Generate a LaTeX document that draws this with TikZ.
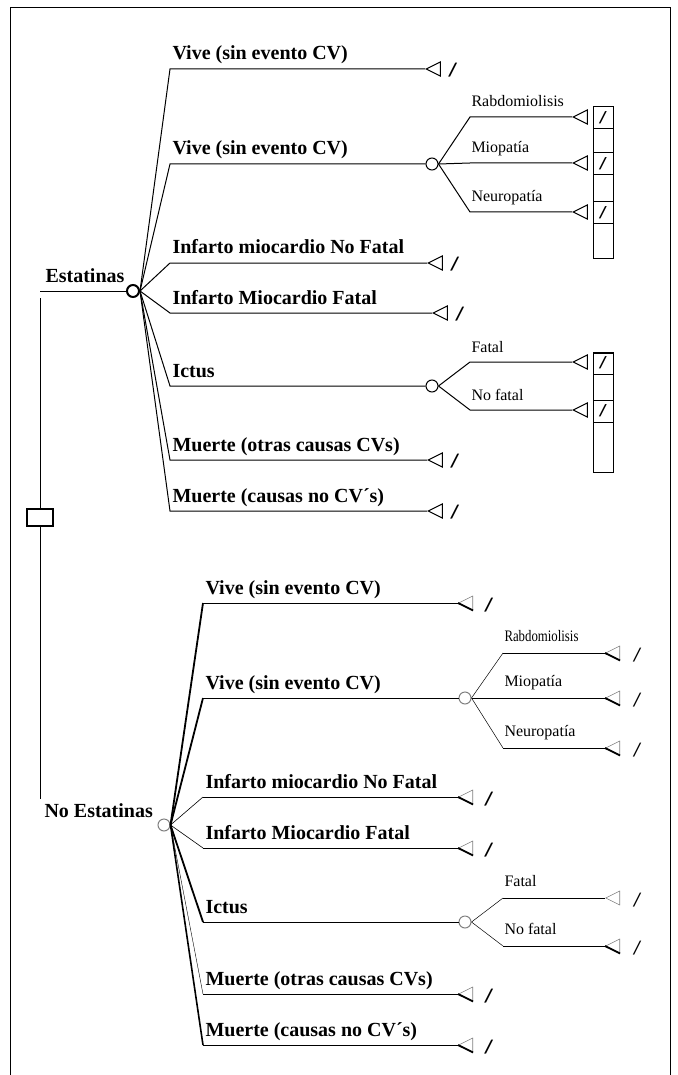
\documentclass[tikz,border=0pt]{standalone}
\usepackage{fontspec}
\setmainfont{Liberation Serif}
\newfontfamily\cutfont{DejaVu Sans}
\usetikzlibrary{shapes.geometric, calc}

\tikzset{
  lbl/.style={font=\bfseries\fontsize{20}{24}\selectfont, anchor=base west, inner sep=0pt},
  sublbl/.style={font=\fontsize{16}{19}\selectfont, anchor=base west, inner sep=0pt},
  chance/.style={circle, draw, minimum size=12pt, inner sep=0pt},
  endtri/.style={isosceles triangle, isosceles triangle stretches, shape border rotate=180,
    draw, minimum height=14pt, minimum width=14pt, inner sep=0pt, anchor=apex},
  cut/.style={font=\cutfont\bfseries\itshape\fontsize{17}{20}\selectfont, inner sep=0pt},
  thincut/.style={font=\cutfont\itshape\fontsize{17}{20}\selectfont, inner sep=0pt},
  cutbox/.style={draw, minimum width=20pt, minimum height=22pt, inner sep=0pt,
    font=\cutfont\bfseries\itshape\fontsize{15}{18}\selectfont},
}

\begin{document}
\begin{tikzpicture}[x=1pt, y=-1pt, line width=1pt]
  \useasboundingbox (0,0) rectangle (677,1075);
  \draw (10,1075) -- (10,8) -- (670,8) -- (670,1075); % frame

  % Decision
  \node[draw, line width=2pt, minimum width=26pt, minimum height=17pt, inner sep=0pt] (dec) at (40,517) {};
  \coordinate (dtop) at (40,298);
  \coordinate (dbot) at (40,799);
  \draw (dtop) -- (dec.north);
  \draw (dec.south) -- (dbot);

  % Estatinas
  \node[chance, line width=2pt] (ue) at (133,291) {};
  \coordinate (ue0) at (40,291);
  \draw (ue0) -- (ue.west);
  \node[lbl] (uelbl) at (45,282) {Estatinas};

  \foreach \n/\y/\x/\t in {uv1/69/425/Vive (sin evento CV), uin/263/427/Infarto miocardio No Fatal,
      uif/313/432/Infarto Miocardio Fatal, umo/460/427/Muerte (otras causas CVs),
      umc/511/427/Muerte (causas no CV´s)}{
    \coordinate (\n0) at (170,\y);
    \node[endtri] (\n) at (\x,\y) {};
    \node[cut] (\n-c) at ($(\n.apex)+(28,1)$) {/};
    \node[lbl] at (172,\y-9) {\t};
    \draw (ue.east) -- (\n0) -- (\n.apex);
  }

  % Vive -> efectos adversos
  \coordinate (uv20) at (170,164);
  \node[chance] (uv2) at (432,164) {};
  \node[lbl] at (172,155) {Vive (sin evento CV)};
  \draw (ue.east) -- (uv20) -- (uv2.west);
  \foreach \n/\y/\t in {ura/117/Rabdomiolisis, umi/163/Miopatía, une/212/Neuropatía}{
    \coordinate (\n0) at (470,\y);
    \node[endtri] (\n) at (572,\y) {};
    \node[cutbox] (\n-c) at (603,\y+1) {/};
    \node[sublbl] at (471,\y-10) {\t};
    \draw (uv2.east) -- (\n0) -- (\n.apex);
  }
  \draw (593,107) rectangle (613,258);

  % Ictus
  \coordinate (uic0) at (170,386);
  \node[chance] (uic) at (432,386) {};
  \node[lbl] at (172,377) {Ictus};
  \draw (ue.east) -- (uic0) -- (uic.west);
  \foreach \n/\y/\t in {ufa/362/Fatal, unf/410/No fatal}{
    \coordinate (\n0) at (470,\y);
    \node[endtri] (\n) at (572,\y) {};
    \node[cutbox] (\n-c) at (603,\y+1) {/};
    \node[sublbl] at (471,\y-10) {\t};
    \draw (uic.east) -- (\n0) -- (\n.apex);
  }
  \draw (593,353) rectangle (613,472);

  % No Estatinas
  \node[chance, draw=gray] (le) at (164,825) {};
  \node[lbl] (lelbl) at (44,817) {No Estatinas};

  \foreach \n/\y/\w/\t in {lv1/603/1.8pt/Vive (sin evento CV), lin/797/0.6pt/Infarto miocardio No Fatal,
      lif/848/0.6pt/Infarto Miocardio Fatal, lmo/994/0.4pt/Muerte (otras causas CVs),
      lmc/1045/1.6pt/Muerte (causas no CV´s)}{
    \coordinate (\n0) at (203,\y);
    \node[endtri, draw=gray, line width=0.6pt] (\n) at (458,\y) {};
    \draw[line width=1.8pt] (\n.apex) -- (\n.left corner);
    \node[cut] (\n-c) at ($(\n.apex)+(31,2)$) {/};
    \node[lbl] at (205,\y-9) {\t};
    \draw[line width=\w] (le.east) -- (\n0);
    \draw (\n0) -- (\n.apex);
  }

  % Vive -> efectos adversos
  \coordinate (lv20) at (203,698);
  \node[chance, draw=gray] (lv2) at (465,698) {};
  \node[lbl] at (205,689) {Vive (sin evento CV)};
  \draw[line width=1.8pt] (le.east) -- (lv20);
  \draw (lv20) -- (lv2.west);
  \foreach \n/\y/\t in {lra/653/\scalebox{0.8}[1]{Rabdomiolisis}, lmi/698/Miopatía, lne/748/Neuropatía}{
    \coordinate (\n0) at (503,\y);
    \node[endtri, draw=gray, line width=0.6pt] (\n) at (605,\y) {};
    \draw[line width=1.8pt] (\n.apex) -- (\n.left corner);
    \node[thincut] (\n-c) at ($(\n.apex)+(32,2)$) {/};
    \node[sublbl] at (504,\y-12) {\t};
    \draw[line width=0.5pt] (lv2.east) -- (\n0);
    \draw (\n0) -- (\n.apex);
  }

  % Ictus
  \coordinate (lic0) at (203,922);
  \node[chance, draw=gray] (lic) at (465,922) {};
  \node[lbl] at (205,913) {Ictus};
  \draw[line width=1.8pt] (le.east) -- (lic0);
  \draw (lic0) -- (lic.west);
  \foreach \n/\y/\t in {lfa/898/Fatal, lnf/946/No fatal}{
    \coordinate (\n0) at (503,\y);
    \node[endtri, draw=gray, line width=0.6pt] (\n) at (605,\y) {};
    \node[thincut] (\n-c) at ($(\n.apex)+(32,2)$) {/};
    \node[sublbl] at (504,\y-12) {\t};
    \draw[line width=0.5pt] (lic.east) -- (\n0);
    \draw (\n0) -- (\n.apex);
  }
  \draw[line width=1.8pt] (lnf.apex) -- (lnf.left corner);
\end{tikzpicture}
\end{document}
